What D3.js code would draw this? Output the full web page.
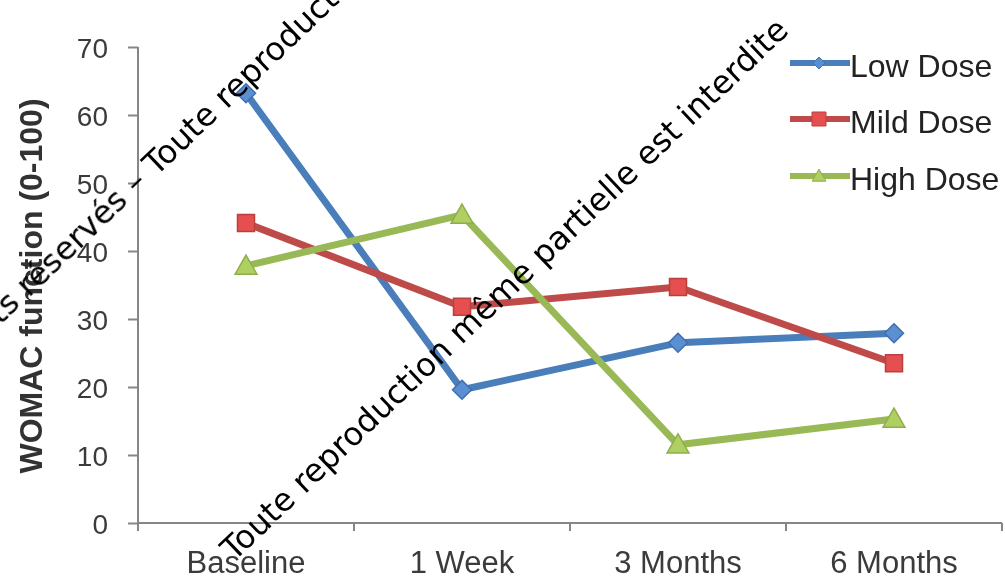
<!DOCTYPE html>
<html>
<head>
<meta charset="utf-8">
<script src="https://cdn.jsdelivr.net/npm/d3@7"></script>
<style>
  html, body { margin: 0; padding: 0; background: #fff; }
  svg { display: block; }
</style>
</head>
<body>
<svg id="chart" width="1005" height="580"></svg>
<script>
// Time points on the x axis
const categories = ["Baseline", "1 Week", "3 Months", "6 Months"];

// WOMAC function score per dose group
const lowDose  = [63.2, 19.6, 26.5, 27.9];
const mildDose = [44.1, 31.8, 34.7, 23.5];
const highDose = [37.8, 45.3, 11.5, 15.3];

const seriesNames = ["Low Dose", "Mild Dose", "High Dose"];
const yTicks = [0, 10, 20, 30, 40, 50, 60, 70];
const yTitle = "WOMAC function (0-100)";
const notice1 = "Toute reproduction même partielle est interdite";
const notice2a = "Tous droits réservés –\u00A0";

const series = [
  { name: seriesNames[0], values: lowDose,  line: "#4a7ebb", fill: "#5a8fd2", stroke: "#3f6fae", shape: "diamond" },
  { name: seriesNames[1], values: mildDose, line: "#be4b48", fill: "#e5504f", stroke: "#b8413f", shape: "square" },
  { name: seriesNames[2], values: highDose, line: "#98b954", fill: "#b0cf62", stroke: "#8eae4b", shape: "triangle" }
];

const svg = d3.select("#chart");
svg.append("rect").attr("width", 1005).attr("height", 580).attr("fill", "#fff");

// Slight softening of the plotted figure
svg.append("defs").append("filter").attr("id", "soft")
  .attr("x", "-5%").attr("y", "-5%").attr("width", "110%").attr("height", "110%")
  .append("feGaussianBlur").attr("stdDeviation", 0.5);

const fig = svg.append("g").attr("filter", "url(#soft)");

const plot = { left: 138, right: 1002, top: 47, bottom: 523 };

const x = d3.scaleBand().domain(categories).range([plot.left, plot.right]).padding(0);
const y = d3.scaleLinear().domain([0, 70]).range([plot.bottom, plot.top]);
const cx = c => x(c) + x.bandwidth() / 2;

const axisColor = "#868686";
const textColor = "#3a3a3a";

// Y axis
const yAxis = fig.append("g")
  .attr("transform", `translate(${plot.left},0)`)
  .call(d3.axisLeft(y).tickValues(yTicks).tickSize(10).tickPadding(20).tickFormat(d3.format("d")));
yAxis.select(".domain").attr("stroke", axisColor).attr("stroke-width", 2)
  .attr("d", `M0,${plot.top}V${plot.bottom + 8}`);
yAxis.selectAll(".tick line").attr("stroke", axisColor).attr("stroke-width", 2);
yAxis.selectAll(".tick text")
  .attr("fill", textColor)
  .attr("font-family", "Liberation Sans, Arial, sans-serif")
  .attr("font-size", 28)
  .attr("dy", "0.36em");

// X axis: labels centred in each band, ticks on band edges
const xAxis = fig.append("g")
  .attr("transform", `translate(0,${plot.bottom})`)
  .call(d3.axisBottom(x).tickSize(0).tickPadding(28));
xAxis.select(".domain").attr("stroke", axisColor).attr("stroke-width", 2)
  .attr("d", `M${plot.left},0H${plot.right}`);
xAxis.selectAll(".tick text")
  .attr("fill", textColor)
  .attr("font-family", "Liberation Sans, Arial, sans-serif")
  .attr("font-size", 31)
  .attr("dy", "0.71em");
const edges = categories.map(c => x(c)).concat([x(categories[categories.length - 1]) + x.bandwidth()]);
xAxis.selectAll("line.edge").data(edges).enter().append("line")
  .attr("class", "edge")
  .attr("x1", d => d).attr("x2", d => d)
  .attr("y1", 0).attr("y2", 8)
  .attr("stroke", axisColor).attr("stroke-width", 2);

// Y axis title
fig.append("text")
  .attr("transform", `translate(42,286) rotate(-90)`)
  .attr("text-anchor", "middle")
  .attr("font-family", "Liberation Sans, Arial, sans-serif")
  .attr("font-weight", "bold")
  .attr("font-size", 32)
  .attr("fill", "#333")
  .text(yTitle);

// Marker shapes
function markerPath(shape, s) {
  if (shape === "diamond") return `M0,${-s}L${s},0L0,${s}L${-s},0Z`;
  if (shape === "square") return `M${-s},${-s}H${s}V${s}H${-s}Z`;
  const h = s * 1.15;
  return `M0,${-h}L${h},${h * 0.75}L${-h},${h * 0.75}Z`;
}

const line = d3.line().x((d, i) => cx(categories[i])).y(d => y(d));

const lines = fig.append("g");
series.forEach(s => {
  lines.append("path")
    .datum(s.values)
    .attr("d", line)
    .attr("fill", "none")
    .attr("stroke", s.line)
    .attr("stroke-width", 7)
    .attr("stroke-linejoin", "round");
  lines.selectAll(null).data(s.values).enter().append("path")
    .attr("transform", (d, i) => `translate(${cx(categories[i])},${y(d)})`)
    .attr("d", markerPath(s.shape, s.shape === "square" ? 8.5 : 9.5))
    .attr("fill", s.fill)
    .attr("stroke", s.stroke)
    .attr("stroke-width", 1.5);
});

// Legend
const legend = fig.append("g").attr("transform", "translate(790,0)");
const legendY = [63, 119, 176];
series.forEach((s, i) => {
  const g = legend.append("g").attr("transform", `translate(0,${legendY[i]})`);
  g.append("line").attr("x1", 0).attr("x2", 60).attr("y1", 0).attr("y2", 0)
    .attr("stroke", s.line).attr("stroke-width", 6);
  g.append("path").attr("transform", "translate(29,0)")
    .attr("d", markerPath(s.shape, s.shape === "square" ? 7 : 6))
    .attr("fill", s.fill).attr("stroke", s.stroke).attr("stroke-width", 1);
  g.append("text").attr("x", 60).attr("y", 14)
    .attr("font-family", "Liberation Sans, Arial, sans-serif")
    .attr("font-size", 32)
    .attr("fill", "#222")
    .text(s.name);
});

// Copyright notice laid diagonally across the figure
const angle = -43.6;
const wm = svg.append("g")
  .attr("font-family", "DejaVu Sans, Verdana, sans-serif")
  .attr("font-size", 32.4)
  .attr("fill", "#000");
wm.append("text")
  .attr("transform", `translate(234,562) rotate(${angle})`)
  .text(notice1);
wm.append("text")
  .attr("transform", `translate(156,177) rotate(${angle})`)
  .text(notice1);
wm.append("text")
  .attr("transform", `translate(156,177) rotate(${angle})`)
  .attr("text-anchor", "end")
  .text(notice2a);
</script>
</body>
</html>
